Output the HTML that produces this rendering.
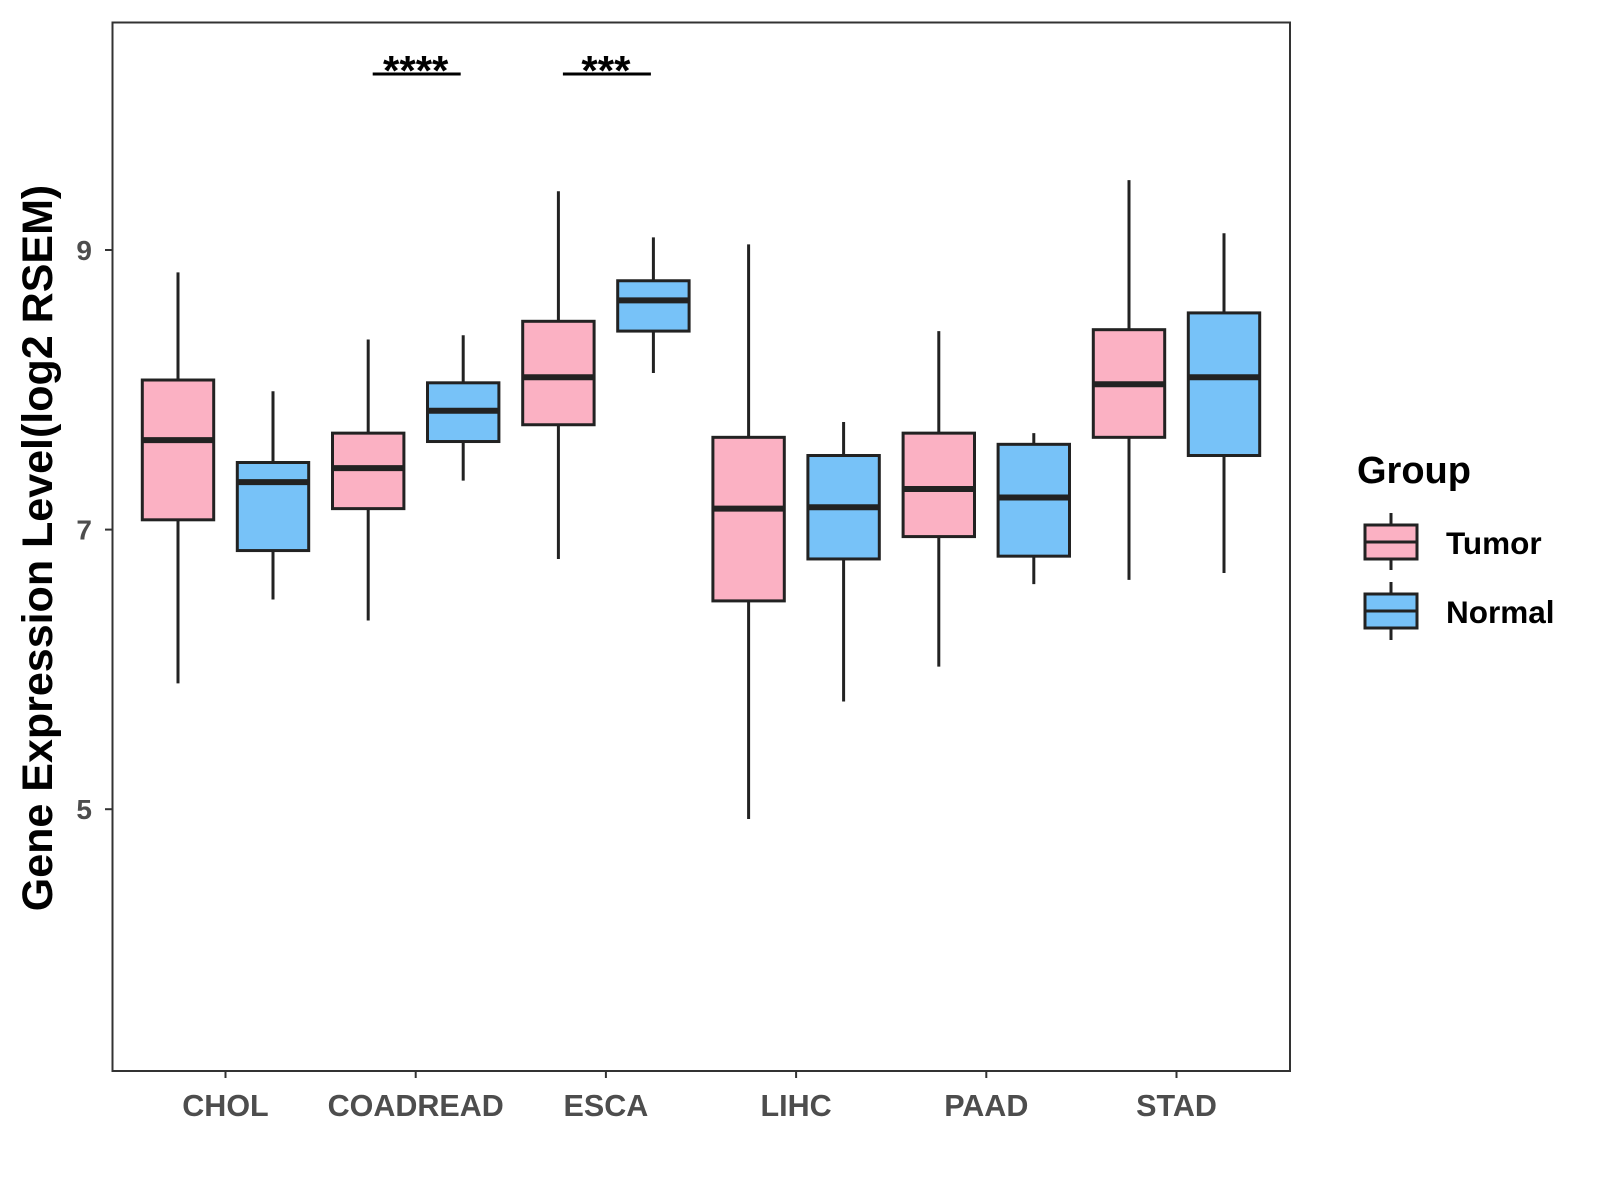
<!DOCTYPE html>
<html><head><meta charset="utf-8"><style>body{margin:0;background:#fff}svg{display:block;font-family:"Liberation Sans",Arial,sans-serif}</style></head>
<body>
<svg id="chart" width="1600" height="1200" viewBox="0 0 1600 1200" xmlns="http://www.w3.org/2000/svg">
<rect x="112.5" y="22.5" width="1177.5" height="1048.5" fill="#fff" stroke="#333" stroke-width="2"/>
<g id="marks"></g>
<text transform="translate(52,548) rotate(-90)" text-anchor="middle" font-size="43" font-weight="bold" fill="#000">Gene Expression Level(log2 RSEM)</text>
<g>
<text x="1357" y="483" font-size="38" font-weight="bold">Group</text>
<line x1="1391" y1="513" x2="1391" y2="570" stroke="#222" stroke-width="3"/>
<rect x="1365" y="525" width="52" height="34" fill="#FBB1C3" stroke="#222" stroke-width="3"/>
<line x1="1365" y1="542" x2="1417" y2="542" stroke="#222" stroke-width="3"/>
<text x="1446" y="554" font-size="31.5" font-weight="bold">Tumor</text>
<line x1="1391" y1="582" x2="1391" y2="640" stroke="#222" stroke-width="3"/>
<rect x="1365" y="594" width="52" height="34" fill="#77C2F8" stroke="#222" stroke-width="3"/>
<line x1="1365" y1="611" x2="1417" y2="611" stroke="#222" stroke-width="3"/>
<text x="1446" y="623" font-size="31.5" font-weight="bold">Normal</text>
</g>
</svg>
<script>
const categories=["CHOL","COADREAD","ESCA","LIHC","PAAD","STAD"];
const tumorStats=[[5.90,7.07,7.64,8.07,8.84],[6.35,7.15,7.44,7.69,8.36],[6.79,7.75,8.09,8.49,9.42],[4.93,6.49,7.15,7.66,9.04],[6.02,6.95,7.29,7.69,8.42],[6.64,7.66,8.04,8.43,9.50]];
const normalStats=[[6.50,6.85,7.34,7.48,7.99],[7.35,7.63,7.85,8.05,8.39],[8.12,8.42,8.64,8.78,9.09],[5.77,6.79,7.16,7.53,7.77],[6.61,6.81,7.23,7.61,7.69],[6.69,7.53,8.09,8.55,9.12]];
const yTicks=[5,7,9];
const sigCats=[1,2];
const sigLabels=["****","***"];
const NS="http://www.w3.org/2000/svg";
const g=document.getElementById('marks');
function y(v){return 529.6-(v-7)*139.8;}
function x(i){return 225.5+i*190.2;}
function el(t,a,p){const e=document.createElementNS(NS,t);for(const k in a)e.setAttribute(k,a[k]);(p||g).appendChild(e);return e;}
yTicks.forEach(t=>{
 const l=el('line',{x1:105,x2:112,y1:y(t),y2:y(t),stroke:'#333','stroke-width':2});
 
 
 const tx=el('text',{x:92,y:y(t)+10,'text-anchor':'end','font-size':28,'font-weight':'bold',fill:'#4d4d4d'});
 tx.textContent=t;
 
 
});
categories.forEach((c,i)=>{
 const l=el('line',{x1:x(i),x2:x(i),y1:1071,y2:1078,stroke:'#333','stroke-width':2});
 
 
 const tx=el('text',{x:x(i),y:1116,'text-anchor':'middle','font-size':30.5,'font-weight':'bold',fill:'#4d4d4d'});
 tx.textContent=c;
 
 
});
function box(cx,s,fill,name){
 const gg=el('g',{});
 
 
 el('line',{x1:cx,x2:cx,y1:y(s[0]),y2:y(s[4]),stroke:'#222','stroke-width':3},gg);
 el('rect',{x:cx-35.7,y:y(s[3]),width:71.4,height:y(s[1])-y(s[3]),fill:fill,stroke:'#222','stroke-width':3},gg);
 el('line',{x1:cx-35.7,x2:cx+35.7,y1:y(s[2]),y2:y(s[2]),stroke:'#222','stroke-width':6},gg);
}
categories.forEach((c,i)=>{
 box(x(i)-47.5,tumorStats[i],'#FBB1C3','box-tumor-'+c.toLowerCase());
 box(x(i)+47.5,normalStats[i],'#77C2F8','box-normal-'+c.toLowerCase());
});
sigCats.forEach((ci,k)=>{
 const l=el('line',{x1:x(ci)-43,x2:x(ci)+45,y1:74,y2:74,stroke:'#000','stroke-width':3});
 
 
 const t=el('text',{x:x(ci),y:85,'text-anchor':'middle','font-size':42,'font-weight':'bold'});
 t.textContent=sigLabels[k];
 
 
});
</script>
</body></html>
